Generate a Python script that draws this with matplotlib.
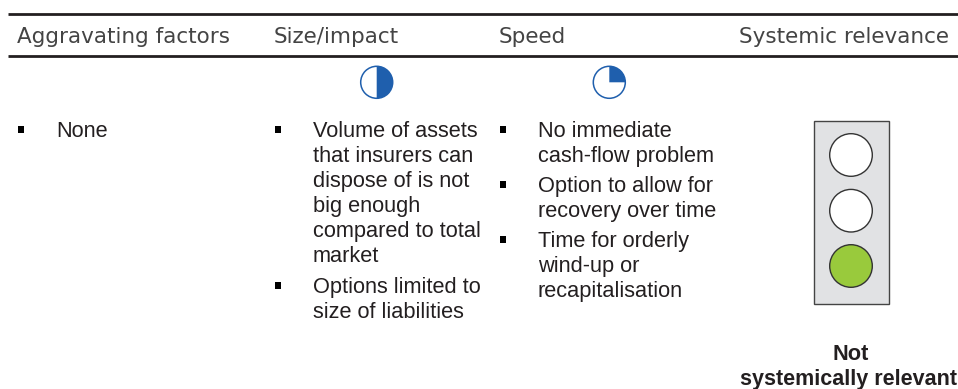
import matplotlib
matplotlib.use("Agg")
from matplotlib import pyplot as plt
from matplotlib.patches import Circle, Rectangle, Wedge

# table content
headers = ["Aggravating factors", "Size/impact", "Speed", "Systemic relevance"]
factors = [["None"]]
size_items = [["Volume of assets", "that insurers can", "dispose of is not", "big enough",
               "compared to total", "market"],
              ["Options limited to", "size of liabilities"]]
speed_items = [["No immediate", "cash-flow problem"],
               ["Option to allow for", "recovery over time"],
               ["Time for orderly", "wind-up or", "recapitalisation"]]
verdict = ["Not", "systemically relevant"]
harvey_share = [0.5, 0.25]
lights = ["white", "white", "#99ca3c"]

BLUE = "#1f5fad"
DARK = "#231f20"
BODY = 15.65

fig = plt.figure(figsize=(9.58, 3.89), dpi=100)
ax = fig.add_axes([0, 0, 1, 1])
ax.set_xlim(0, 958)
ax.set_ylim(389, 0)
ax.axis("off")

# header rules
ax.plot([8, 958], [13.7, 13.7], color=DARK, lw=2, solid_capstyle="butt")
ax.plot([8, 958], [56.4, 56.4], color=DARK, lw=2, solid_capstyle="butt")

for h, x in zip(headers, [17, 274, 499, 739]):
    ax.text(x, 43, h, family="DejaVu Sans", fontsize=15.5, color="#444444",
            va="baseline", ha="left")


def bullets(groups, x_bullet, x_text, y_start, step, gaps):
    y = y_start
    for i, group in enumerate(groups):
        ax.add_patch(Rectangle((x_bullet, y - 11), 6.5, 6.5, color="black", lw=0))
        for line in group:
            ax.text(x_text, y, line, family="Liberation Sans", fontsize=BODY,
                    color=DARK, va="baseline", ha="left")
            y += step
        if i < len(gaps):
            y += gaps[i]


bullets(factors, 18, 56, 137, 25, [])
bullets(size_items, 275, 313, 137, 25, [6])
bullets(speed_items, 500, 538, 137, 25, [5, 5])

# harvey balls, filled clockwise from twelve o'clock (y axis is flipped)
for share, cx in zip(harvey_share, [376.7, 609.3]):
    ax.add_patch(Wedge((cx, 82.3), 16, 270, 270 + 360 * share, color=BLUE, lw=0))
    ax.add_patch(Circle((cx, 82.3), 16, fc="none", ec=BLUE, lw=1.1))

# traffic light
ax.add_patch(Rectangle((814.5, 121.3), 74.3, 183, fc="#e1e2e4", ec="#444444", lw=1))
for c, y in zip(lights, [155, 210.7, 266]):
    ax.add_patch(Circle((851, y), 21.3, fc=c, ec="#333333", lw=1))

ax.text(851, 360, verdict[0], family="Liberation Sans", fontsize=BODY, weight="bold",
        color=DARK, ha="center", va="baseline")
# nudged left so the last letter stays inside the picture
ax.text(849, 385, verdict[1], family="Liberation Sans", fontsize=15.5, weight="bold",
        color=DARK, ha="center", va="baseline")

fig.savefig("out.png", dpi=100)
